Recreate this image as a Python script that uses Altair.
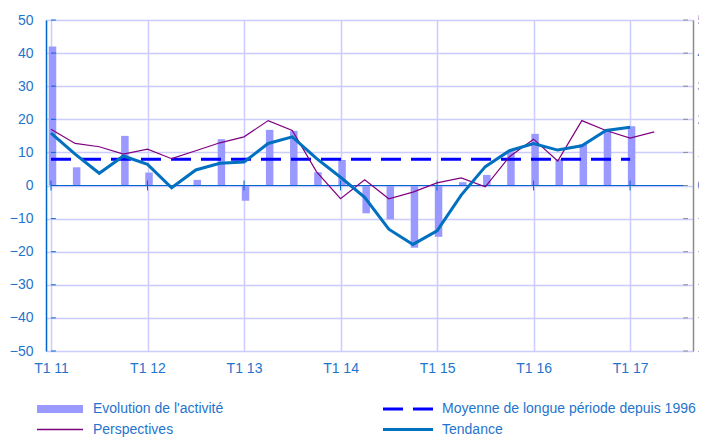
import json
import altair as alt
import pandas as pd

# ---------------- data ----------------
tick_labels = ["T1 11", "T1 12", "T1 13", "T1 14", "T1 15", "T1 16", "T1 17"]
activite = [42.0, 5.5, 0.0, 15.0, 3.9, 0.0, 1.7, 14.0, -4.6, 16.8, 16.5, 4.0, 7.7,
            -8.4, -10.2, -18.8, -15.5, 1.0, 3.2, 10.3, 15.6, 7.9, 12.5, 16.6, 17.9]
perspectives = [17.0, 12.7, 11.7, 9.5, 11.0, 8.1, 10.5, 12.9, 14.7, 19.6, 16.6, 4.2, -4.0,
                1.7, -4.0, -2.0, 0.8, 2.3, -0.4, 8.7, 14.0, 7.4, 19.6, 16.6, 14.3, 16.2]
tendance = [15.8, 9.5, 3.7, 8.9, 6.4, -0.7, 4.7, 6.7, 7.1, 12.7, 14.7, 8.2, 2.5,
            -3.6, -13.2, -17.8, -13.7, -2.9, 5.7, 10.5, 12.7, 10.7, 12.0, 16.6, 17.6]
moyenne = 7.9
y_ticks = [-50, -40, -30, -20, -10, 0, 10, 20, 30, 40, 50]
x_ticks = [0, 4, 8, 12, 16, 20, 24]
legend_labels = ["Evolution de l'activité", "Perspectives",
                 "Moyenne de longue période depuis 1996", "Tendance"]

# ---------------- styles ----------------
FONT = "Liberation Sans"
BLUE_TXT = "#1f74cc"
AXIS_BLUE = "#0066cc"
GRID = "#ccccff"
BAR = "#9999ff"
TREND = "#0070c0"
PERSP = "#800080"
DASH = "#0000ff"
GRAY = "#8c8c8c"

XMAX = 26.4
xs = alt.Scale(domain=[0, XMAX], nice=False, zero=False)
ys = alt.Scale(domain=[-50, 50], nice=False, zero=False)

df_act = pd.DataFrame({"q": list(range(len(activite))), "v": activite})
df_per = pd.DataFrame({"q": list(range(len(perspectives))), "v": perspectives})
df_tre = pd.DataFrame({"q": list(range(len(tendance))), "v": tendance})
df_yt = pd.DataFrame({"v": y_ticks})
df_xt = pd.DataFrame({"q": x_ticks})
one = pd.DataFrame({"a": [0]})

label_expr = json.dumps(tick_labels) + "[round(datum.value / 4)]"

x_axis = alt.Axis(values=x_ticks, labelExpr=label_expr, grid=True, gridColor=GRID,
                  gridWidth=1.5, domain=False, ticks=False, labelColor=BLUE_TXT,
                  labelFontSize=14, labelFont=FONT, labelPadding=10, title=None)
y_axis = alt.Axis(values=y_ticks, grid=True, gridColor=GRID, gridWidth=1.5,
                  domain=True, domainColor=AXIS_BLUE, domainWidth=1.5, ticks=False,
                  labelColor=BLUE_TXT, labelFontSize=14, labelFont=FONT,
                  labelPadding=13, format="d", title=None)
y_axis_r = alt.Axis(orient="right", values=y_ticks, grid=False, domain=True,
                    domainColor=GRAY, domainWidth=1.5, ticks=False,
                    labelColor=BLUE_TXT, labelFontSize=14, labelFont=FONT,
                    labelPadding=4, format="d", title=None)

bars = alt.Chart(df_act).mark_bar(color=BAR, size=7.5, clip=True).encode(
    x=alt.X("q:Q", scale=xs, axis=x_axis),
    y=alt.Y("v:Q", scale=ys, axis=y_axis),
    xOffset=alt.value(1.5),
)

zero = alt.Chart(one).mark_rule(color=AXIS_BLUE, strokeWidth=1).encode(
    x=alt.XDatum(0, scale=xs, axis=x_axis), x2=alt.X2Datum(XMAX),
    y=alt.YDatum(0, scale=ys, axis=y_axis),
)

xt = alt.Chart(df_xt).mark_rule(color=AXIS_BLUE, strokeWidth=1).encode(
    x=alt.X("q:Q", scale=xs, axis=x_axis),
    y=alt.YDatum(-1.5, scale=ys, axis=y_axis), y2=alt.Y2Datum(1.5),
)

lt = alt.Chart(df_yt).mark_rule(color=AXIS_BLUE, strokeWidth=1).encode(
    x=alt.XDatum(0, scale=xs, axis=x_axis), x2=alt.X2Datum(0.2),
    y=alt.Y("v:Q", scale=ys, axis=y_axis),
)

mean_line = alt.Chart(one).mark_rule(color=DASH, strokeWidth=3, strokeDash=[20, 10]).encode(
    x=alt.XDatum(0, scale=xs, axis=x_axis), x2=alt.X2Datum(24),
    y=alt.YDatum(moyenne, scale=ys, axis=y_axis),
)

persp = alt.Chart(df_per).mark_line(color=PERSP, strokeWidth=1.2).encode(
    x=alt.X("q:Q", scale=xs, axis=x_axis),
    y=alt.Y("v:Q", scale=ys, axis=y_axis),
)

trend = alt.Chart(df_tre).mark_line(color=TREND, strokeWidth=3).encode(
    x=alt.X("q:Q", scale=xs, axis=x_axis),
    y=alt.Y("v:Q", scale=ys, axis=y_axis),
)

# ----- manual legend (pixel placement below the plot) -----
def leg_text(txt, x, y):
    return alt.Chart(one).mark_text(align="left", baseline="middle", font=FONT,
                                    fontSize=14, color=BLUE_TXT).encode(
        x=alt.value(x), y=alt.value(y), text=alt.value(txt))

leg_bar = alt.Chart(one).mark_rect(color=BAR).encode(
    x=alt.value(-9), x2=alt.value(37), y=alt.value(385), y2=alt.value(393))
leg_per = alt.Chart(one).mark_rule(color=PERSP, strokeWidth=1.5).encode(
    x=alt.value(-9), x2=alt.value(37), y=alt.value(409.5))
leg_dash = alt.Chart(one).mark_rule(color=DASH, strokeWidth=3, strokeDash=[20, 10]).encode(
    x=alt.value(337), x2=alt.value(387), y=alt.value(389))
leg_tre = alt.Chart(one).mark_rule(color=TREND, strokeWidth=3).encode(
    x=alt.value(337), x2=alt.value(387), y=alt.value(409.5))

main = alt.layer(
    bars, zero, xt, lt, mean_line, persp, trend,
    leg_bar, leg_per, leg_dash, leg_tre,
    leg_text(legend_labels[0], 47, 389),
    leg_text(legend_labels[1], 47, 410),
    leg_text(legend_labels[2], 396, 389),
    leg_text(legend_labels[3], 396, 410),
)

right = alt.Chart(df_yt).mark_rule(color=GRAY, strokeWidth=1).encode(
    x=alt.XDatum(XMAX - 0.2, scale=xs, axis=x_axis), x2=alt.X2Datum(XMAX),
    y=alt.Y("v:Q", scale=ys, axis=y_axis_r),
)

chart = alt.layer(main, right).resolve_scale(y="independent").properties(
    width=647, height=331,
    autosize=alt.AutoSizeParams(type="none"),
    padding={"left": 38, "top": 12, "right": 6, "bottom": 86},
).configure_view(strokeWidth=0).configure(background="white")

chart.save("out.html", embed_options={"renderer": "svg", "actions": False})
